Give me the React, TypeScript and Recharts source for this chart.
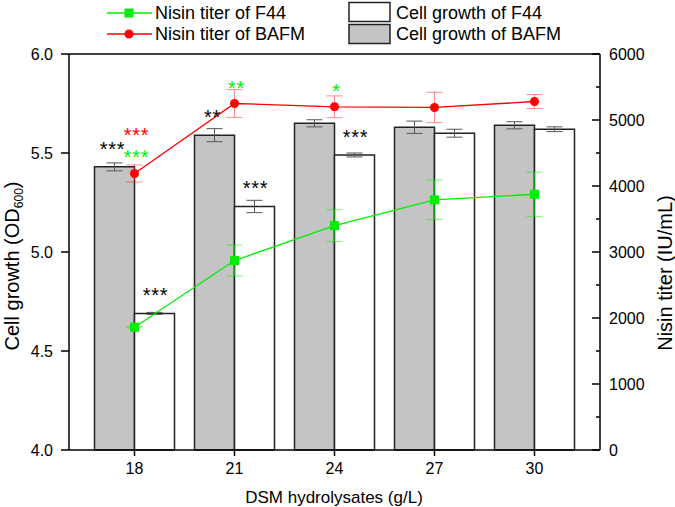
import { Bar, ComposedChart, ErrorBar, LabelList, Line, ReferenceLine, XAxis, YAxis } from "recharts";

const categories = ["18", "21", "24", "27", "30"];
const growthBAFM = [5.43, 5.59, 5.65, 5.63, 5.64];
const growthBAFMErr = [0.02, 0.033, 0.018, 0.031, 0.018];
const growthF44 = [4.69, 5.23, 5.49, 5.6, 5.62];
const growthF44Err = [0.005, 0.031, 0.01, 0.02, 0.012];
const titerBAFM = [4190, 5250, 5200, 5190, 5280];
const titerBAFMErr = [130, 210, 165, 230, 105];
const titerF44 = [1860, 2870, 3400, 3790, 3875];
const titerF44Err = [10, 235, 240, 300, 335];

// significance marks
const starsBAFMBar = ["***", "**", "", "", ""];
const starsF44Bar = ["***", "***", "***", "", ""];
const starsTiterRed = ["***", "", "", "", ""];
const starsTiterGreen = ["***", "**", "*", "", ""];

const leftTicks = [4, 4.5, 5, 5.5, 6];
const rightTicks = [0, 500, 1000, 1500, 2000, 2500, 3000, 3500, 4000, 4500, 5000, 5500, 6000];

const FONT = "Arial, 'Liberation Sans', sans-serif";
const RED = "#ff0000";
const GREEN = "#00ee00";
const GRAY = "#c4c4c4";
const EDGE = "#222";

const data = categories.map((cat, i) => ({
  cat,
  bafm: growthBAFM[i],
  bafmErr: growthBAFMErr[i],
  f44: growthF44[i],
  f44Err: growthF44Err[i],
  tBafm: titerBAFM[i],
  tBafmErr: titerBAFMErr[i],
  tF44: titerF44[i],
  tF44Err: titerF44Err[i],
  sBafm: starsBAFMBar[i],
  sF44: starsF44Bar[i],
  sRed: starsTiterRed[i],
  sGreen: starsTiterGreen[i],
}));

const stars = (color: string, lift: number, dx = 0) => (props: any) => {
  const { x, y, width, value } = props;
  if (!value) return null;
  const cx = Number(x) + (width ? Number(width) / 2 : 0) + dx;
  return (
    <text x={cx} y={Number(y) - lift + 11} textAnchor="middle" fill={color} fontSize={20} letterSpacing={0.8} fontFamily={FONT}>
      {value}
    </text>
  );
};

function RightTick({ x, y, payload }: any) {
  const major = payload.value % 1000 === 0;
  const ax = x - 9;
  return (
    <g>
      <line x1={ax - (major ? 8 : 4)} x2={ax} y1={y} y2={y} stroke="#000" strokeWidth={1.5} />
      {major && (
        <text x={x} y={y} dy="0.355em" textAnchor="start" fontSize={16} fill="#000" fontFamily={FONT}>
          {payload.value}
        </text>
      )}
    </g>
  );
}

function SquareDot(props: any) {
  const { cx, cy, index } = props;
  if (cx == null || cy == null) return <g key={index} />;
  return <rect key={index} x={cx - 4.5} y={cy - 4.5} width={9} height={9} fill={GREEN} />;
}

function Overlay() {
  return (
    <svg width={675} height={507} style={{ position: "absolute", left: 0, top: 0, pointerEvents: "none" }} fontFamily={FONT}>
      <line x1={107} x2={152} y1={13} y2={13} stroke={GREEN} strokeWidth={1.3} />
      <rect x={124.5} y={8.5} width={9} height={9} fill={GREEN} />
      <text x={155} y={13} dy="0.355em" fontSize={18}>Nisin titer of F44</text>
      <line x1={107} x2={152} y1={34} y2={34} stroke={RED} strokeWidth={1.3} />
      <circle cx={129} cy={34} r={4.5} fill={RED} />
      <text x={155} y={34} dy="0.355em" fontSize={18}>Nisin titer of BAFM</text>

      <rect x={349} y={2.5} width={41} height={19} fill="#fff" stroke={EDGE} strokeWidth={1.5} />
      <text x={396} y={12.5} dy="0.355em" fontSize={18}>Cell growth of F44</text>
      <rect x={349} y={24.5} width={41} height={19} fill={GRAY} stroke={EDGE} strokeWidth={1.5} />
      <text x={396} y={34} dy="0.355em" fontSize={18}>Cell growth of BAFM</text>

      <text x={19} y={266} transform="rotate(-90 19 266)" textAnchor="middle" fontSize={20}>
        Cell growth (OD<tspan fontSize={12} dy={4}>600</tspan>
        <tspan dy={-4}>)</tspan>
      </text>
      <text x={672} y={273} transform="rotate(-90 672 273)" textAnchor="middle" fontSize={20}>
        Nisin titer (IU/mL)
      </text>
      <text x={334} y={497} dy="0.355em" textAnchor="middle" fontSize={17}>
        DSM hydrolysates (g/L)
      </text>
    </svg>
  );
}

export default function App() {
  return (
    <div style={{ position: "absolute", left: 0, top: 0, width: 675, height: 507, background: "#fff" }}>
      <ComposedChart
        width={675}
        height={507}
        data={data}
        margin={{ top: 54, right: 0, bottom: 0, left: 0 }}
        barGap={0}
      >
        <XAxis
          dataKey="cat"
          height={57}
          padding={{ left: 15.5, right: 15.5 }}
          tickSize={6}
          tickMargin={7}
          interval={0}
          axisLine={{ stroke: "#000", strokeWidth: 1.5 }}
          tickLine={{ stroke: "#000", strokeWidth: 1.5 }}
          tick={{ fill: "#000", fontSize: 16, fontFamily: FONT }}
        />
        <YAxis
          yAxisId="left"
          width={69}
          domain={[4, 6]}
          ticks={leftTicks}
          interval={0}
          tickFormatter={(v: number) => v.toFixed(1)}
          tickSize={8}
          tickMargin={8}
          axisLine={{ stroke: "#000", strokeWidth: 1.5 }}
          tickLine={{ stroke: "#000", strokeWidth: 1.5 }}
          tick={{ fill: "#000", fontSize: 16, fontFamily: FONT }}
        />
        <YAxis
          yAxisId="right"
          orientation="right"
          width={75}
          domain={[0, 6000]}
          ticks={rightTicks}
          interval={0}
          tickSize={0}
          tickMargin={9}
          tickLine={false}
          axisLine={{ stroke: "#000", strokeWidth: 1.5 }}
          tick={<RightTick />}
        />
        <ReferenceLine yAxisId="left" y={6} stroke="#000" strokeWidth={1.5} />
        <Bar yAxisId="left" dataKey="bafm" barSize={40} fill={GRAY} stroke={EDGE} strokeWidth={1.5} isAnimationActive={false}>
          <ErrorBar dataKey="bafmErr" width={8} stroke="#555" strokeWidth={1} />
          <LabelList dataKey="sBafm" content={stars("#000", 22, -2)} />
        </Bar>
        <Bar yAxisId="left" dataKey="f44" barSize={40} fill="#fff" stroke={EDGE} strokeWidth={1.5} isAnimationActive={false}>
          <ErrorBar dataKey="f44Err" width={8} stroke="#555" strokeWidth={1} />
          <LabelList dataKey="sF44" content={stars("#000", 22, 1)} />
        </Bar>
        <Line
          yAxisId="right"
          dataKey="tF44"
          stroke={GREEN}
          strokeWidth={1.3}
          dot={SquareDot}
          activeDot={false}
          isAnimationActive={false}
        >
          <ErrorBar dataKey="tF44Err" width={8} stroke={GREEN} strokeOpacity={0.55} strokeWidth={1} />
        </Line>
        <Line
          yAxisId="right"
          dataKey="tBafm"
          stroke={RED}
          strokeWidth={1.3}
          dot={{ r: 4.5, fill: RED, stroke: RED, strokeWidth: 0 }}
          activeDot={false}
          isAnimationActive={false}
        >
          <ErrorBar dataKey="tBafmErr" width={8} stroke={RED} strokeOpacity={0.45} strokeWidth={1} />
          <LabelList dataKey="sGreen" content={stars(GREEN, 20, 2)} />
          <LabelList dataKey="sRed" content={stars(RED, 42, 2)} />
        </Line>
      </ComposedChart>
      <Overlay />
    </div>
  );
}
